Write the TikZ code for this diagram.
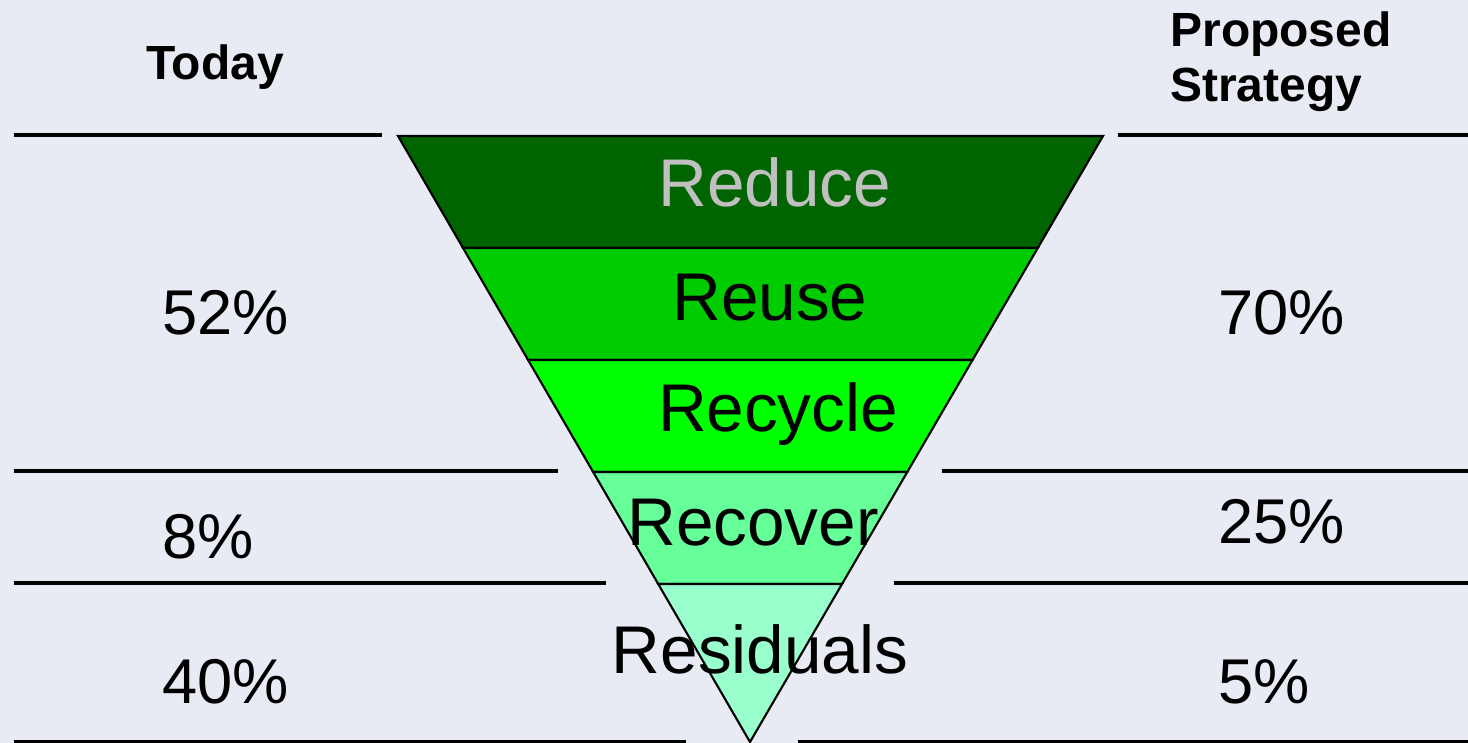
\documentclass[tikz,border=0pt]{standalone}
\usepackage{fontspec}
\setmainfont{Liberation Sans}
\usepackage{tikz}
\usetikzlibrary{calc}

\definecolor{bgcol}{HTML}{E8EAF4}
\definecolor{reducecol}{HTML}{006400}
\definecolor{reusecol}{HTML}{00CC00}
\definecolor{recyclecol}{HTML}{00FF00}
\definecolor{recovercol}{HTML}{66FF99}
\definecolor{residcol}{HTML}{99FFCC}

\begin{document}
\begin{tikzpicture}[x=0.02cm, y=-0.02cm,
		rule/.style={line width=2.3pt},
		band/.style={draw=black, line width=1.2pt},
		pct/.style={anchor=base west, inner sep=0pt, font=\fontsize{36}{40}\selectfont},
		layer/.style={anchor=base, font=\fontsize{38.4}{42}\selectfont},
		head/.style={inner sep=0pt, font=\fontsize{27.3}{31}\selectfont\bfseries}]
		\fill[bgcol] (0,0) rectangle (1468,743);
		\useasboundingbox (0,0) rectangle (1468,743);

		\coordinate (tl) at (398,136);
		\coordinate (tr) at (1103,136);
		\coordinate (apex) at (750,742);

		% the five layers of the funnel
		\foreach \a/\b/\c in {0/0.1848/reducecol, 0.1848/0.3696/reusecol, 0.3696/0.5545/recyclecol, 0.5545/0.7393/recovercol, 0.7393/1/residcol}
			\filldraw[band, fill=\c] ($(tl)!\a!(apex)$) -- ($(tr)!\a!(apex)$) -- ($(tr)!\b!(apex)$) -- ($(tl)!\b!(apex)$) -- cycle;

		% rules on both sides
		\draw[rule] (14,135) -- (382,135);
		\draw[rule] (1118,135) -- (1468,135);
		\draw[rule] (14,471) -- (558,471);
		\draw[rule] (942,471) -- (1468,471);
		\draw[rule] (14,583) -- (606,583);
		\draw[rule] (894,583) -- (1468,583);
		\draw[rule] (14,742) -- (686,742);
		\draw[rule] (798,742) -- (1468,742);

		\node[head, anchor=base] at (215,80) (today) {Today};
		\node[head, anchor=base west] at (1170,47) (proposed) {Proposed};
		\node[head, anchor=base west] at (1170,102) (strategy) {Strategy};

		\node[layer, text={rgb,255:red,192;green,192;blue,192}] at (775,207) (reduce) {Reduce};
		\node[layer] at (770,320) (reuse) {Reuse};
		\node[layer] at (778,431) (recycle) {Recycle};
		\node[layer] at (753,545) (recover) {Recover};
		\node[layer] at (760,673) (residuals) {Residuals};

		\node[pct] at (162,335) (today52) {52\%};
		\node[pct] at (162,558) (today8) {8\%};
		\node[pct] at (162,703) (today40) {40\%};
		\node[pct] at (1218,335) (prop70) {70\%};
		\node[pct] at (1218,543) (prop25) {25\%};
		\node[pct] at (1218,703) (prop5) {5\%};
	\end{tikzpicture}
\end{document}
